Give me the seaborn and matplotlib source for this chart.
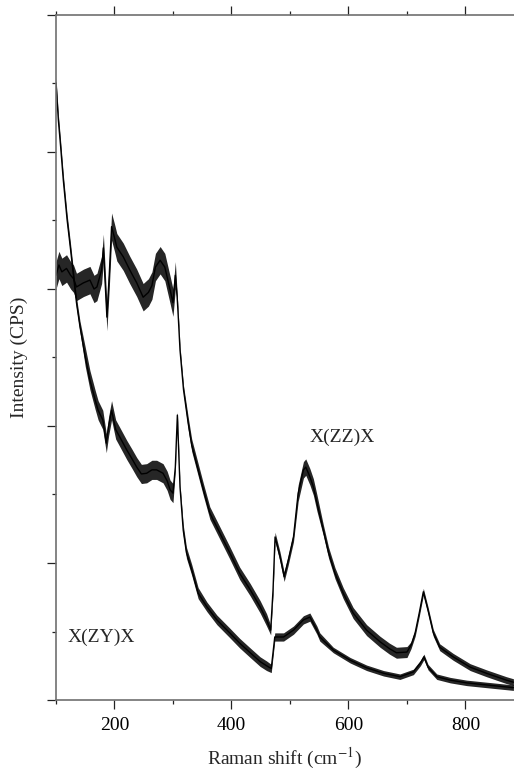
import matplotlib
matplotlib.use("Agg")
import matplotlib.pyplot as plt
from matplotlib.ticker import MultipleLocator
import numpy as np
import pandas as pd
import seaborn as sns

# ---- data (intensity in arbitrary units, 1 unit = one y tick) ----
zy_shift = [100, 104, 108, 112.5, 119, 125, 130, 135, 141, 150, 158, 167, 172, 180, 186, 190,
            195, 202, 209, 221, 230, 238, 246, 255, 264, 272, 283, 290, 295, 300, 304, 307.5,
            312, 317.5, 323, 332, 343, 358, 375, 397, 414, 432, 449, 460, 468, 474, 489, 506,
            523, 534, 546, 551, 574, 603, 631, 660, 688, 711, 723, 729, 736, 751, 774, 802,
            836, 882]
zy_int = [9.01, 8.47, 8.07, 7.59, 7.01, 6.57, 6.18, 5.80, 5.45, 5.01, 4.67, 4.38, 4.23, 4.09,
          3.75, 4.00, 4.23, 3.95, 3.84, 3.65, 3.52, 3.40, 3.30, 3.31, 3.36, 3.36, 3.31, 3.20,
          3.07, 3.02, 3.40, 4.16, 3.11, 2.48, 2.15, 1.90, 1.56, 1.36, 1.17, 0.98, 0.83, 0.69,
          0.56, 0.50, 0.46, 0.92, 0.92, 1.02, 1.17, 1.21, 1.02, 0.92, 0.73, 0.58, 0.47, 0.39,
          0.34, 0.41, 0.54, 0.63, 0.48, 0.34, 0.29, 0.25, 0.22, 0.18]
zy_spread = [0.08, 0.08, 0.08, 0.08, 0.08, 0.08, 0.08, 0.08, 0.08, 0.14, 0.14, 0.14, 0.14, 0.14,
             0.14, 0.14, 0.14, 0.14, 0.14, 0.14, 0.14, 0.14, 0.14, 0.14, 0.14, 0.14, 0.14, 0.14,
             0.14, 0.14, 0.05, 0.05, 0.05, 0.08, 0.08, 0.08, 0.08, 0.07, 0.07, 0.07, 0.07, 0.07,
             0.07, 0.07, 0.06, 0.06, 0.06, 0.06, 0.06, 0.06, 0.06, 0.06, 0.04, 0.04, 0.04, 0.04,
             0.04, 0.04, 0.04, 0.04, 0.04, 0.04, 0.04, 0.04, 0.04, 0.04]

zz_shift = [100, 105, 110, 118, 125, 130, 135, 147, 158, 165, 170, 178, 181, 184, 187, 191,
            195, 200, 204, 215, 226, 238, 249, 258, 264, 270, 278, 286, 295, 300, 304, 307,
            309, 312, 318, 326, 332, 340, 352, 363, 380, 397, 414, 432, 449, 460, 467, 471,
            474.5, 483, 490, 497, 506, 514, 523, 527, 534, 540, 546, 557, 566, 577, 591, 608,
            631, 654, 670, 682, 700, 707, 714, 721, 728, 736, 745, 756, 779, 808, 836, 870, 882]
zz_int = [6.20, 6.35, 6.25, 6.30, 6.20, 6.15, 6.03, 6.09, 6.13, 6.00, 6.03, 6.28, 6.60, 6.10,
          5.59, 6.20, 6.91, 6.75, 6.61, 6.47, 6.28, 6.09, 5.88, 5.95, 6.05, 6.32, 6.42, 6.32,
          5.99, 5.80, 6.20, 5.90, 5.60, 5.11, 4.53, 4.04, 3.72, 3.46, 3.07, 2.73, 2.44, 2.15,
          1.85, 1.61, 1.36, 1.17, 1.02, 1.60, 2.38, 2.09, 1.80, 2.04, 2.38, 3.02, 3.36, 3.40,
          3.26, 3.11, 2.88, 2.48, 2.15, 1.85, 1.56, 1.27, 1.02, 0.85, 0.75, 0.69, 0.70, 0.80,
          0.98, 1.27, 1.58, 1.31, 0.98, 0.77, 0.63, 0.48, 0.39, 0.29, 0.26]
zz_spread = [0.20, 0.20, 0.20, 0.20, 0.20, 0.20, 0.20, 0.20, 0.20, 0.20, 0.20, 0.20, 0.20, 0.20,
             0.20, 0.20, 0.20, 0.20, 0.20, 0.20, 0.20, 0.20, 0.20, 0.20, 0.20, 0.20, 0.20, 0.20,
             0.20, 0.20, 0.20, 0.06, 0.06, 0.06, 0.06, 0.09, 0.09, 0.09, 0.09, 0.09, 0.09, 0.09,
             0.09, 0.09, 0.09, 0.09, 0.07, 0.07, 0.07, 0.07, 0.07, 0.07, 0.07, 0.12, 0.12, 0.12,
             0.12, 0.12, 0.12, 0.08, 0.08, 0.08, 0.08, 0.08, 0.08, 0.08, 0.08, 0.08, 0.08, 0.05,
             0.05, 0.05, 0.05, 0.05, 0.05, 0.05, 0.05, 0.05, 0.05, 0.05, 0.05]

labels = ["X(ZZ)X", "X(ZY)X"]
label_pos = [(590, 3.84), (178, 0.92)]

x_label = r"Raman shift (cm$^{-1}$)"
y_label = "Intensity (CPS)"

# ---- figure ----
sns.set_style("ticks")
plt.rcParams["font.family"] = ["Liberation Serif", "DejaVu Serif"]
plt.rcParams["mathtext.fontset"] = "stix"

fig = plt.figure(figsize=(5.14, 7.73), dpi=100)
ax = fig.add_axes([56 / 514, 73 / 773, 1 - 56 / 514, 685 / 773])

df_zy = pd.DataFrame({"shift": zy_shift, "intensity": zy_int})
df_zz = pd.DataFrame({"shift": zz_shift, "intensity": zz_int})

for df, spread in ((df_zy, zy_spread), (df_zz, zz_spread)):
    s = np.asarray(spread)
    ax.fill_between(df["shift"], df["intensity"] - s, df["intensity"] + s,
                    color="black", lw=0, alpha=0.85)
    sns.lineplot(data=df, x="shift", y="intensity", ax=ax, color="black",
                 lw=1.0, sort=False, estimator=None)

for txt, (tx, ty) in zip(labels, label_pos):
    ax.text(tx, ty, txt, ha="center", va="center", fontsize=14)

ax.set_xlim(100, 883)
ax.set_ylim(0, 10)
ax.set_xlabel(x_label, fontsize=14, labelpad=8)
ax.set_ylabel(y_label, fontsize=14, labelpad=14)

ax.xaxis.set_major_locator(MultipleLocator(200))
ax.xaxis.set_minor_locator(MultipleLocator(100))
ax.yaxis.set_major_locator(MultipleLocator(2))
ax.yaxis.set_minor_locator(MultipleLocator(1))
ax.tick_params(axis="x", which="both", top=True, bottom=True, direction="out",
               labelsize=14, colors="#222222", labelcolor="black", pad=6)
ax.tick_params(axis="y", which="both", left=True, right=False, labelleft=False,
               direction="out", colors="#222222")
ax.tick_params(which="major", length=6.5, width=0.9)
ax.tick_params(which="minor", length=3, width=0.9)

for side in ("left", "bottom", "top"):
    ax.spines[side].set_color("#707070")
    ax.spines[side].set_linewidth(1.2)
ax.spines["right"].set_visible(False)

fig.savefig("out.png", dpi=100)
